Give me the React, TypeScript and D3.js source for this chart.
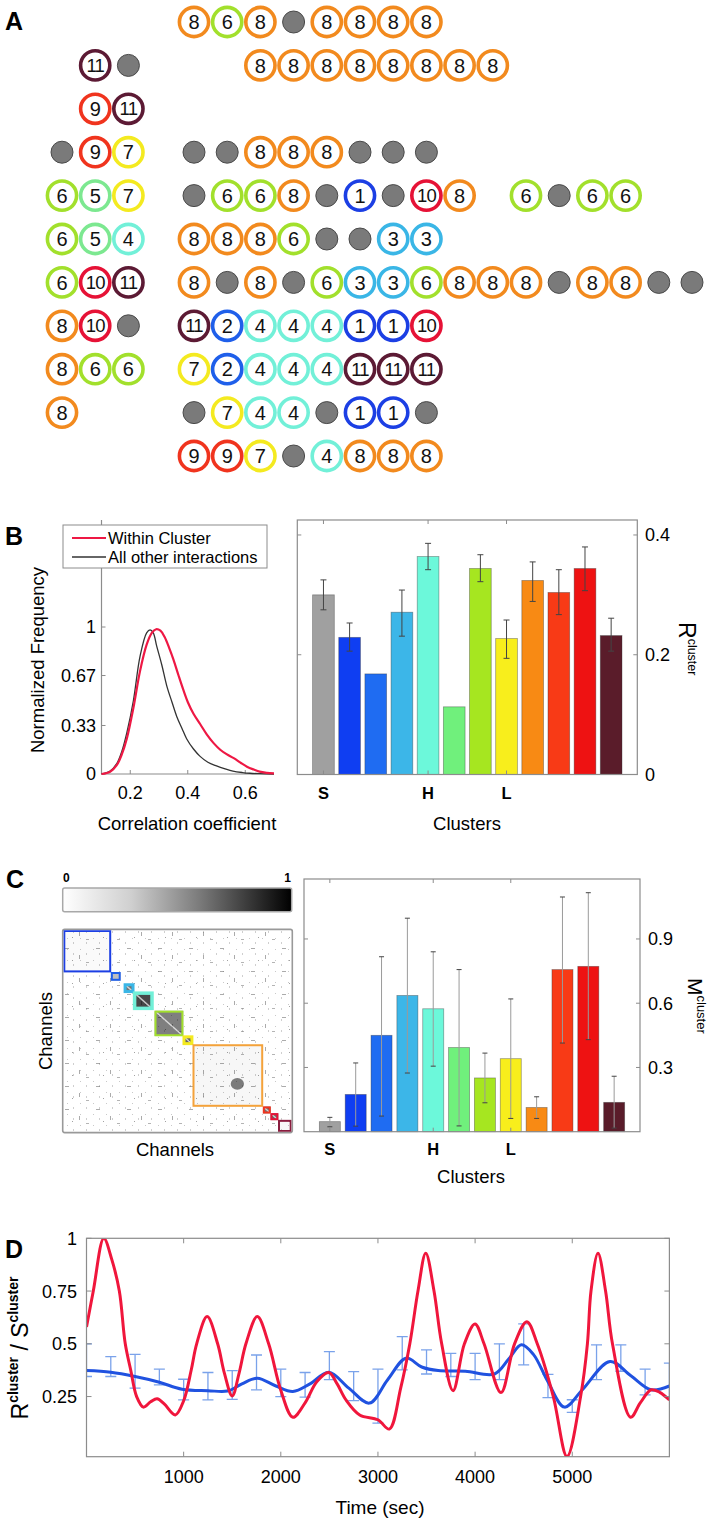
import React from "react";
import * as d3 from "d3";

const FONT = "'Liberation Sans', Arial, Helvetica, sans-serif";

// ---------------- Panel A data ----------------
const ringColors = ["#7c7c7c", "#1c3fe4", "#1f5fea", "#3ab6e6", "#72f0d8", "#7ce890", "#a2e02c", "#f4ea20", "#f28a1e", "#f0341e", "#e61236", "#5c1a34"];
const aLeftRows: (number | null)[][] = [
  [], [null, 11, 0], [null, 9, 11], [0, 9, 7], [6, 5, 7], [6, 5, 4], [6, 10, 11], [8, 10, 0], [8, 6, 6], [8], [],
];
const aRightRows: (number | null)[][] = [
  [8, 6, 8, 0, 8, 8, 8, 8],
  [null, null, 8, 8, 8, 8, 8, 8, 8, 8],
  [],
  [0, 0, 8, 8, 8, 0, 0, 0],
  [0, 6, 6, 8, 0, 1, 0, 10, 8, null, 6, 0, 6, 6],
  [8, 8, 8, 6, 0, 0, 3, 3],
  [8, 0, 8, 0, 6, 3, 3, 6, 8, 8, 8, 0, 8, 8, 0, 0],
  [11, 2, 4, 4, 4, 1, 1, 10],
  [7, 2, 4, 4, 4, 11, 11, 11],
  [0, 7, 4, 4, 0, 1, 1, 0],
  [9, 9, 7, 0, 4, 8, 8, 8],
];

// ---------------- Panel B data ----------------
const corrOther: [number, number][] = [
  [0.1, 0], [0.13, 0.02], [0.153, 0.07], [0.17, 0.15], [0.188, 0.28], [0.211, 0.5], [0.234, 0.8], [0.257, 0.96],
  [0.269, 0.98], [0.28, 0.96], [0.292, 0.87], [0.31, 0.74], [0.327, 0.6], [0.345, 0.49], [0.362, 0.39], [0.38, 0.31],
  [0.396, 0.24], [0.42, 0.17], [0.443, 0.12], [0.47, 0.08], [0.5, 0.055], [0.53, 0.035], [0.557, 0.02], [0.59, 0.01],
  [0.616, 0.005], [0.65, 0.002], [0.7, 0],
];
const corrWithin: [number, number][] = [
  [0.1, 0], [0.13, 0.015], [0.153, 0.06], [0.17, 0.13], [0.188, 0.24], [0.211, 0.45], [0.234, 0.7], [0.257, 0.88],
  [0.275, 0.96], [0.29, 0.985], [0.305, 0.975], [0.32, 0.93], [0.335, 0.86], [0.35, 0.78], [0.368, 0.67], [0.385, 0.57],
  [0.4, 0.49], [0.42, 0.41], [0.443, 0.34], [0.466, 0.27], [0.49, 0.21], [0.513, 0.165], [0.535, 0.135], [0.56, 0.108],
  [0.585, 0.075], [0.606, 0.05], [0.63, 0.03], [0.65, 0.016], [0.675, 0.008], [0.7, 0.004],
];
const corrTicks = [0.2, 0.4, 0.6];
const freqTicks = [0, 0.33, 0.67, 1];
const freqTickLabels = ["0", "0.33", "0.67", "1"];

const clusterTickPos = [1, 5, 8];
const clusterTickLabels = ["S", "H", "L"];
const barColors = ["#a0a0a0", "#0f3ef2", "#1f6cf2", "#3cb6e8", "#6cf8da", "#70f07c", "#a6e620", "#f8ee1c", "#f88a14", "#f83a16", "#ee1212", "#5a1c2a"];
const rMean = [0.3, 0.229, 0.168, 0.271, 0.364, 0.113, 0.344, 0.227, 0.324, 0.304, 0.344, 0.232];
const rHi: (number | null)[] = [0.325, 0.253, null, 0.308, 0.386, null, 0.367, 0.258, 0.355, 0.342, 0.38, 0.261];
const rLo: (number | null)[] = [0.275, 0.206, null, 0.231, 0.342, null, 0.322, 0.194, 0.289, 0.267, 0.307, 0.206];
const rTicks = [0, 0.2, 0.4];

// ---------------- Panel C data ----------------
const mMean = [0.047, 0.174, 0.45, 0.636, 0.574, 0.393, 0.251, 0.341, 0.113, 0.757, 0.772, 0.137];
const mHi = [0.067, 0.321, 0.817, 0.997, 0.84, 0.757, 0.367, 0.62, 0.163, 1.096, 1.116, 0.259];
const mLo = [0.023, 0.026, 0.073, 0.274, 0.306, 0.027, 0.135, 0.062, 0.062, 0.414, 0.43, 0.017];
const mTicks = [0.3, 0.6, 0.9];

const channelCount = 120;
const matClusterIds = [1, 2, 3, 4, 6, 7, 8, 9, 10, 11];
const matClusterStart = [0, 25, 32, 37, 48, 63, 68, 105, 109, 113];
const matClusterEnd = [25, 30, 37, 47, 63, 68, 105, 109, 113, 120];
const matClusterDensity = [0.02, 0.25, 0.55, 0.72, 0.5, 0.6, 0.03, 0.55, 0.6, 0.03];
const matHotStart = [88];
const matHotEnd = [95];
const matHotDensity = [0.5];

// ---------------- Panel D data ----------------
const redSeries: [number, number][] = [
  [0, 0.58], [70, 0.75], [178, 1.0], [260, 0.9], [338, 0.75], [399, 0.5], [455, 0.376], [516, 0.25], [586, 0.2],
  [660, 0.225], [727, 0.24], [800, 0.215], [914, 0.163], [1000, 0.23], [1078, 0.376], [1134, 0.5], [1242, 0.629],
  [1350, 0.5], [1420, 0.36], [1500, 0.253], [1570, 0.36], [1641, 0.5], [1758, 0.629], [1875, 0.5], [2000, 0.28],
  [2124, 0.152], [2250, 0.22], [2370, 0.32], [2494, 0.364], [2580, 0.31], [2671, 0.234], [2812, 0.163], [3000, 0.14],
  [3117, 0.096], [3234, 0.29], [3328, 0.5], [3412, 0.75], [3492, 0.929], [3577, 0.75], [3656, 0.5], [3773, 0.278],
  [3890, 0.5], [3999, 0.594], [4092, 0.5], [4266, 0.269], [4406, 0.5], [4533, 0.605], [4640, 0.5], [4805, 0.25],
  [4946, -0.034], [5086, 0.25], [5156, 0.5], [5193, 0.75], [5265, 0.929], [5343, 0.75], [5414, 0.5], [5601, 0.152],
  [5700, 0.22], [5812, 0.282], [5900, 0.27], [6000, 0.234],
];
const blueSeries: [number, number][] = [
  [0, 0.373], [250, 0.365], [500, 0.345], [750, 0.318], [983, 0.285], [1250, 0.278], [1450, 0.276], [1600, 0.31],
  [1758, 0.337], [1950, 0.3], [2124, 0.274], [2300, 0.31], [2494, 0.365], [2700, 0.29], [2912, 0.219], [3100, 0.33],
  [3290, 0.432], [3450, 0.39], [3620, 0.373], [3900, 0.37], [4200, 0.357], [4350, 0.43], [4476, 0.495], [4600, 0.45],
  [4750, 0.32], [4920, 0.2], [5100, 0.28], [5389, 0.416], [5600, 0.35], [5812, 0.282], [6000, 0.3],
];
const errT = [0, 250, 500, 750, 1000, 1250, 1500, 1750, 2000, 2250, 2500, 2750, 3000, 3250, 3500, 3750, 4000, 4250, 4500, 4750, 5000, 5250, 5500, 5750, 6000];
const errHi = [0.5, 0.439, 0.45, 0.38, 0.332, 0.364, 0.373, 0.447, 0.38, 0.364, 0.463, 0.368, 0.38, 0.534, 0.471, 0.455, 0.455, 0.5, 0.594, 0.355, 0.235, 0.495, 0.495, 0.38, 0.408];
const errLo = [0.345, 0.345, 0.29, 0.305, 0.234, 0.234, 0.237, 0.282, 0.25, 0.247, 0.33, 0.231, 0.124, 0.376, 0.357, 0.345, 0.33, 0.33, 0.4, 0.245, 0.175, 0.33, 0.37, 0.258, 0.25];
const timeTicks = [1000, 2000, 3000, 4000, 5000];
const ratioTicks = [0.25, 0.5, 0.75, 1];
const ratioTickLabels = ["0.25", "0.5", "0.75", "1"];

// ---------------- scales ----------------
const aRowY = d3.scaleLinear().domain([0, 10]).range([22, 456]);
const aLeftX = d3.scaleLinear().domain([0, 2]).range([62, 128.4]);
const aRightX = d3.scaleLinear().domain([0, 15]).range([194, 692]);

const bX = d3.scaleLinear().domain([0.1, 0.7]).range([101.5, 274]);
const bY = d3.scaleLinear().domain([0, 1.728]).range([774, 520]);
const brX = d3.scaleLinear().domain([0, 13]).range([297.3, 637.3]);
const brY = d3.scaleLinear().domain([0, 0.425]).range([774.5, 520]);

const cX = d3.scaleLinear().domain([0, 13]).range([304, 640]);
const cY = d3.scaleLinear().domain([0, 1.18]).range([1131.7, 879]);
const mX = d3.scaleLinear().domain([0, channelCount]).range([63.5, 291.5]);
const mY = d3.scaleLinear().domain([0, channelCount]).range([930.2, 1131.8]);

const dX = d3.scaleLinear().domain([0, 6000]).range([86.5, 669.4]);
const dY = d3.scaleLinear().domain([-0.035, 1]).range([1456.7, 1238.3]);

const AX = "#8c8c8c";

function Node({ x, y, v }: { x: number; y: number; v: number | null }) {
  if (v === null || v === undefined) return null;
  if (v === 0) return <circle cx={x} cy={y} r={11} fill="#7a7a7a" stroke="#4a4a4a" strokeWidth={1} />;
  const two = v >= 10;
  return (
    <g>
      <circle cx={x} cy={y} r={14.6} fill="#fff" stroke={ringColors[v]} strokeWidth={3.6} />
      <text x={x} y={y} dy="0.36em" textAnchor="middle" fontSize={two ? 18.5 : 20} letterSpacing={two ? -0.8 : 0} fill="#111">
        {String(v)}
      </text>
    </g>
  );
}

function Bars({ xs, ys, mean, hi, lo, baseY, w, errColor, capColor, cap }: any) {
  return (
    <g>
      {mean.map((m: number, i: number) => (
        <rect key={"b" + i} x={xs(i + 1) - w / 2} y={ys(m)} width={w} height={baseY - ys(m)} fill={barColors[i]} stroke="#333" strokeOpacity={0.45} strokeWidth={0.8} />
      ))}
      {mean.map((m: number, i: number) => {
        if (hi[i] === null) return null;
        const cx = xs(i + 1);
        return (
          <g key={"e" + i}>
            <line x1={cx} x2={cx} y1={ys(hi[i])} y2={ys(lo[i])} stroke={errColor} strokeWidth={1} />
            <line x1={cx - cap} x2={cx + cap} y1={ys(hi[i])} y2={ys(hi[i])} stroke={capColor} strokeWidth={1} />
            <line x1={cx - cap} x2={cx + cap} y1={ys(lo[i])} y2={ys(lo[i])} stroke={capColor} strokeWidth={1} />
          </g>
        );
      })}
    </g>
  );
}

export default function App() {
  const bLine = d3.line<[number, number]>().x((d) => bX(d[0])).y((d) => bY(d[1])).curve(d3.curveCatmullRom.alpha(0.5));
  const dLine = d3.line<[number, number]>().x((d) => dX(d[0])).y((d) => dY(d[1])).curve(d3.curveCatmullRom.alpha(0.5));

  const brL = brX(0), brR = brX(13), brT = brY(0.425), brB = brY(0);
  const cL = cX(0), cR = cX(13), cT = cY(1.18), cB = cY(0);
  const dL = dX(0), dR = dX(6000), dT = dY(1), dB = dY(-0.035);

  return (
    <div style={{ position: "absolute", left: 0, top: 0 }}>
      <svg width={714} height={1523} style={{ display: "block", background: "#fff" }} fontFamily={FONT}>
        <defs>
          <linearGradient id="cbar" x1="0" x2="1" y1="0" y2="0">
            <stop offset="0" stopColor="#ffffff" />
            <stop offset="0.3" stopColor="#cfcfcf" />
            <stop offset="0.6" stopColor="#7a7a7a" />
            <stop offset="1" stopColor="#000000" />
          </linearGradient>
          <pattern id="spk1" width="13" height="11" patternUnits="userSpaceOnUse">
            <rect x="2" y="3" width="1" height="1" fill="#777" />
            <rect x="8" y="7" width="1" height="2" fill="#888" />
          </pattern>
          <pattern id="spk2" width="31" height="23" patternUnits="userSpaceOnUse">
            <rect x="3" y="5" width="4" height="1" fill="#666" />
            <rect x="17" y="12" width="1" height="4" fill="#666" />
            <rect x="24" y="19" width="3" height="1" fill="#777" />
            <rect x="10" y="17" width="1" height="1" fill="#555" />
          </pattern>
          <clipPath id="dclip">
            <rect x={dL} y={dT} width={dR - dL} height={dB - dT} />
          </clipPath>
          <clipPath id="mclip">
            <rect x={mX(0)} y={mY(0)} width={mX(channelCount) - mX(0)} height={mY(channelCount) - mY(0)} />
          </clipPath>
        </defs>

        {/* ---------------- Panel A ---------------- */}
        <text x={5} y={30} fontSize={25} fontWeight="bold">A</text>
        {aLeftRows.map((row, r) => row.map((v, c) => <Node key={`l${r}-${c}`} x={aLeftX(c)} y={aRowY(r)} v={v} />))}
        {aRightRows.map((row, r) => row.map((v, c) => <Node key={`r${r}-${c}`} x={aRightX(c)} y={aRowY(r)} v={v} />))}

        {/* ---------------- Panel B left ---------------- */}
        <text x={5} y={545} fontSize={25} fontWeight="bold">B</text>
        <line x1={bX(0.1)} x2={bX(0.1)} y1={bY(1.728)} y2={bY(0)} stroke={AX} strokeWidth={1.2} />
        <line x1={bX(0.1)} x2={bX(0.7)} y1={bY(0)} y2={bY(0)} stroke={AX} strokeWidth={1.2} />
        {corrTicks.map((t) => (
          <g key={"ct" + t}>
            <line x1={bX(t)} x2={bX(t)} y1={bY(0)} y2={bY(0) - 4} stroke={AX} />
            <text x={bX(t)} y={799} textAnchor="middle" fontSize={18}>{String(t)}</text>
          </g>
        ))}
        {freqTicks.map((t, i) => (
          <g key={"ft" + t}>
            <line x1={bX(0.1)} x2={bX(0.1) + 4} y1={bY(t)} y2={bY(t)} stroke={AX} />
            <text x={96} y={bY(t)} dy="0.36em" textAnchor="end" fontSize={18}>{freqTickLabels[i]}</text>
          </g>
        ))}
        <path d={bLine(corrOther) || ""} fill="none" stroke="#333" strokeWidth={1.3} />
        <path d={bLine(corrWithin) || ""} fill="none" stroke="#ee1844" strokeWidth={2.2} />
        <text x={187} y={830} textAnchor="middle" fontSize={18.5}>Correlation coefficient</text>
        <text transform="translate(44,660) rotate(-90)" textAnchor="middle" fontSize={18.5}>Normalized Frequency</text>
        <rect x={63} y={525} width={204} height={43} fill="#fff" stroke={AX} strokeWidth={1} />
        <line x1={72} x2={106} y1={538} y2={538} stroke="#ee1844" strokeWidth={2.2} />
        <text x={108} y={538} dy="0.36em" fontSize={16.5}>Within Cluster</text>
        <line x1={72} x2={106} y1={557} y2={557} stroke="#333" strokeWidth={1.5} />
        <text x={108} y={557} dy="0.36em" fontSize={16.5}>All other interactions</text>

        {/* ---------------- Panel B right ---------------- */}
        <Bars xs={brX} ys={brY} mean={rMean} hi={rHi} lo={rLo} baseY={brB} w={21.7} errColor="#444" capColor="#444" cap={3} />
        <rect x={brL} y={brT} width={brR - brL} height={brB - brT} fill="none" stroke={AX} strokeWidth={1.2} />
        {clusterTickPos.map((p, i) => (
          <g key={"bt" + p}>
            <line x1={brX(p)} x2={brX(p)} y1={brT} y2={brT + 4} stroke={AX} />
            <line x1={brX(p)} x2={brX(p)} y1={brB} y2={brB - 4} stroke={AX} />
            <text x={brX(p)} y={799} textAnchor="middle" fontSize={16.5} fontWeight="bold">{clusterTickLabels[i]}</text>
          </g>
        ))}
        {rTicks.map((t) => (
          <g key={"rt" + t}>
            <line x1={brL} x2={brL + 4} y1={brY(t)} y2={brY(t)} stroke={AX} />
            <line x1={brR} x2={brR - 4} y1={brY(t)} y2={brY(t)} stroke={AX} />
            <text x={645} y={brY(t)} dy="0.36em" fontSize={18}>{String(t)}</text>
          </g>
        ))}
        <text x={467} y={830} textAnchor="middle" fontSize={18.5}>Clusters</text>
        <text transform="translate(679,622) rotate(90)" fontSize={23}>
          R<tspan fontSize={12.5} dy={-9}>cluster</tspan>
        </text>

        {/* ---------------- Panel C left ---------------- */}
        <text x={6} y={888} fontSize={25} fontWeight="bold">C</text>
        <text x={63} y={882} fontSize={12} fontWeight="bold">0</text>
        <text x={291} y={882} fontSize={12} fontWeight="bold" textAnchor="end">1</text>
        <rect x={62.7} y={888} width={229} height={23.7} rx={2} fill="url(#cbar)" stroke="#a8a8a8" strokeWidth={1.5} />
        <rect x={mX(0) - 0.8} y={mY(0) - 0.8} width={mX(channelCount) - mX(0) + 1.6} height={mY(channelCount) - mY(0) + 1.6} rx={2} fill="#fff" stroke="#999" strokeWidth={1.6} />
        <g clipPath="url(#mclip)">
          <rect x={mX(0)} y={mY(0)} width={mX(channelCount) - mX(0)} height={mY(channelCount) - mY(0)} fill="url(#spk1)" opacity={0.4} />
          <rect x={mX(0)} y={mY(0)} width={mX(channelCount) - mX(0)} height={mY(channelCount) - mY(0)} fill="url(#spk2)" opacity={0.55} />
          {matClusterIds.map((id, i) => (
            <rect key={"mf" + id} x={mX(matClusterStart[i])} y={mY(matClusterStart[i])} width={mX(matClusterEnd[i]) - mX(matClusterStart[i])} height={mY(matClusterEnd[i]) - mY(matClusterStart[i])} fill="#000" fillOpacity={matClusterDensity[i]} />
          ))}
          {matHotStart.map((s, i) => (
            <ellipse key={"mh" + i} cx={(mX(s) + mX(matHotEnd[i])) / 2} cy={(mY(s) + mY(matHotEnd[i])) / 2} rx={(mX(matHotEnd[i]) - mX(s)) / 2} ry={(mY(matHotEnd[i]) - mY(s)) / 2} fill="#000" fillOpacity={matHotDensity[i]} />
          ))}
          {matClusterIds.map((id, i) =>
            matClusterDensity[i] > 0.3 ? (
              <line key={"md" + id} x1={mX(matClusterStart[i])} y1={mY(matClusterStart[i])} x2={mX(matClusterEnd[i])} y2={mY(matClusterEnd[i])} stroke="#fff" strokeOpacity={0.7} strokeWidth={1.4} />
            ) : null
          )}
          {matClusterIds.map((id, i) => (
            <rect key={"mb" + id} x={mX(matClusterStart[i]) + 0.8} y={mY(matClusterStart[i]) + 0.8} width={mX(matClusterEnd[i]) - mX(matClusterStart[i]) - 1.6} height={mY(matClusterEnd[i]) - mY(matClusterStart[i]) - 1.6} fill="none" stroke={id === 8 ? "#f4a23a" : id === 11 ? "#8a1c3e" : ringColors[id]} strokeWidth={id === 4 ? 3.5 : id === 3 || id === 7 ? 3 : 2} />
          ))}
        </g>
        <text x={175} y={1156} textAnchor="middle" fontSize={18.5}>Channels</text>
        <text transform="translate(52,1031) rotate(-90)" textAnchor="middle" fontSize={18.5}>Channels</text>

        {/* ---------------- Panel C right ---------------- */}
        <Bars xs={cX} ys={cY} mean={mMean} hi={mHi} lo={mLo} baseY={cB} w={21} errColor="#9a9a9a" capColor="#444" cap={2.5} />
        <rect x={cL} y={cT} width={cR - cL} height={cB - cT} fill="none" stroke={AX} strokeWidth={1.2} />
        {clusterTickPos.map((p, i) => (
          <g key={"cxt" + p}>
            <line x1={cX(p)} x2={cX(p)} y1={cT} y2={cT + 4} stroke={AX} />
            <line x1={cX(p)} x2={cX(p)} y1={cB} y2={cB - 4} stroke={AX} />
            <text x={cX(p)} y={1155} textAnchor="middle" fontSize={16.5} fontWeight="bold">{clusterTickLabels[i]}</text>
          </g>
        ))}
        {mTicks.map((t) => (
          <g key={"mt" + t}>
            <line x1={cL} x2={cL + 4} y1={cY(t)} y2={cY(t)} stroke={AX} />
            <line x1={cR} x2={cR - 4} y1={cY(t)} y2={cY(t)} stroke={AX} />
            <text x={648} y={cY(t)} dy="0.36em" fontSize={18}>{String(t)}</text>
          </g>
        ))}
        <text x={471} y={1183} textAnchor="middle" fontSize={18.5}>Clusters</text>
        <text transform="translate(688,978) rotate(90)" fontSize={21}>
          M<tspan fontSize={13} dy={-9}>cluster</tspan>
        </text>

        {/* ---------------- Panel D ---------------- */}
        <text x={5} y={1258} fontSize={25} fontWeight="bold">D</text>
        <g clipPath="url(#dclip)">
          {errT.map((t, i) => (
            <g key={"de" + t} stroke="#7aa2ea" strokeWidth={1.3}>
              <line x1={dX(t)} x2={dX(t)} y1={dY(errHi[i])} y2={dY(errLo[i])} />
              <line x1={dX(t) - 5.5} x2={dX(t) + 5.5} y1={dY(errHi[i])} y2={dY(errHi[i])} />
              <line x1={dX(t) - 5.5} x2={dX(t) + 5.5} y1={dY(errLo[i])} y2={dY(errLo[i])} />
            </g>
          ))}
          <path d={dLine(blueSeries) || ""} fill="none" stroke="#2052e0" strokeWidth={3} />
          <path d={dLine(redSeries) || ""} fill="none" stroke="#f0163c" strokeWidth={3} />
        </g>
        <rect x={dL} y={dT} width={dR - dL} height={dB - dT} fill="none" stroke={AX} strokeWidth={1.2} />
        {timeTicks.map((t) => (
          <g key={"tt" + t}>
            <line x1={dX(t)} x2={dX(t)} y1={dT} y2={dT + 5} stroke={AX} />
            <line x1={dX(t)} x2={dX(t)} y1={dB} y2={dB - 5} stroke={AX} />
            <text x={dX(t)} y={1483} textAnchor="middle" fontSize={18}>{String(t)}</text>
          </g>
        ))}
        {ratioTicks.map((t, i) => (
          <g key={"yt" + t}>
            <line x1={dL} x2={dL + 5} y1={dY(t)} y2={dY(t)} stroke={AX} />
            <line x1={dR} x2={dR - 5} y1={dY(t)} y2={dY(t)} stroke={AX} />
            <text x={77} y={dY(t)} dy="0.36em" textAnchor="end" fontSize={18}>{ratioTickLabels[i]}</text>
          </g>
        ))}
        <text x={380} y={1514} textAnchor="middle" fontSize={19}>Time (sec)</text>
        <text transform="translate(28,1348) rotate(-90)" textAnchor="middle" fontSize={23}>
          R<tspan fontSize={14} fontWeight="bold" dy={-10}>cluster</tspan>
          <tspan dy={10}> / S</tspan>
          <tspan fontSize={14} fontWeight="bold" dy={-10}>cluster</tspan>
        </text>
      </svg>
    </div>
  );
}
